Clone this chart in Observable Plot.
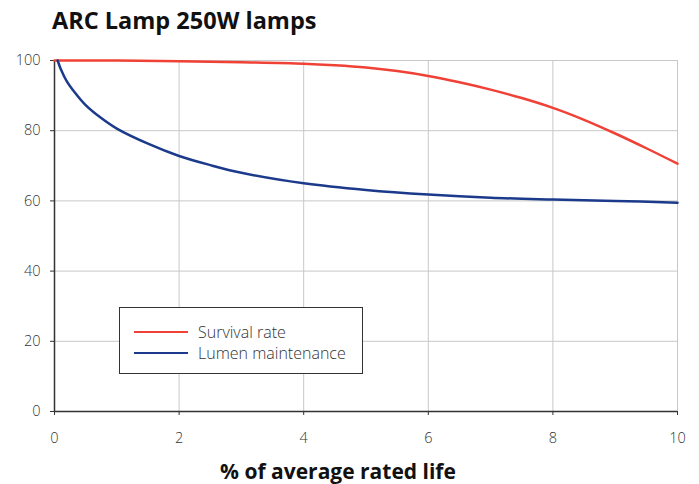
<!DOCTYPE html>
<html>
<head>
<meta charset="utf-8">
<script src="https://cdn.jsdelivr.net/npm/d3@7"></script>
<script src="https://cdn.jsdelivr.net/npm/@observablehq/plot@0.6"></script>
<style>
  html, body { margin: 0; padding: 0; background: #fff; }
  #wrap { position: relative; width: 699px; height: 484px; font-family: "Open Sans", sans-serif; }
  #title { position: absolute; left: 52px; top: 4px; font-size: 23.5px; font-weight: 700; color: #111; white-space: nowrap; }
  #chart { position: absolute; left: 0; top: 0; }
  #legend { position: absolute; left: 119px; top: 307px; width: 244px; height: 67px; border: 1px solid #333; background: #fff; box-sizing: border-box; font-size: 16px; color: #333; font-weight: 300; }
  .li { position: absolute; left: 14px; height: 22px; display: flex; align-items: center; white-space: nowrap; }
  .sw { width: 54px; height: 0; border-top: 2.5px solid; margin-right: 10px; }
</style>
</head>
<body>
<div id="wrap">
  <div id="chart"></div>
  <div id="title">ARC Lamp 250W lamps</div>
  <div id="legend"></div>
</div>
<script>
const seriesNames = ["Survival rate", "Lumen maintenance"];
const seriesColors = ["#ef4136", "#1b3a8c"];

const survivalX = [0, 1, 2, 3, 4, 4.5, 5, 5.5, 6, 6.5, 7, 7.5, 8, 8.5, 9, 9.5, 10];
const survivalY = [100, 100, 99.8, 99.5, 99.1, 98.65, 98.0, 97.0, 95.6, 93.8, 91.7, 89.3, 86.5, 83.1, 79.2, 75.0, 70.6];

const lumenX = [0.05, 0.1, 0.2, 0.3, 0.5, 0.75, 1.0, 1.5, 2.0, 2.5, 3.0, 4.0, 5.0, 6.0, 7.0, 8.0, 9.0, 10.0];
const lumenY = [100, 97.6, 94.0, 91.5, 87.3, 83.6, 80.6, 76.3, 72.8, 70.2, 68.0, 65.0, 63.1, 61.8, 60.9, 60.4, 60.0, 59.5];

const xTicks = [0, 2, 4, 6, 8, 10];
const yTicks = [0, 20, 40, 60, 80, 100];

const survival = survivalX.map((x, i) => ({x, y: survivalY[i], s: seriesNames[0]}));
const lumen = lumenX.map((x, i) => ({x, y: lumenY[i], s: seriesNames[1]}));

const plot = Plot.plot({
  width: 699,
  height: 484,
  marginTop: 60,
  marginLeft: 54,
  marginRight: 22,
  marginBottom: 73,
  style: { fontFamily: "Open Sans, sans-serif", background: "transparent" },
  x: { domain: [0, 10] },
  y: { domain: [0, 100] },
  marks: [
    Plot.gridX(xTicks, { stroke: "#c8c8c8", strokeOpacity: 1, strokeWidth: 1 }),
    Plot.gridY(yTicks, { stroke: "#c8c8c8", strokeOpacity: 1, strokeWidth: 1 }),
    Plot.axisX(xTicks, { tickSize: 4, tickPadding: 17, fontSize: 14.5, fontWeight: 300, fill: "#333", stroke: "#333",
      label: "% of average rated life", labelAnchor: "center", labelArrow: "none", labelOffset: 67 }),
    Plot.axisY(yTicks, { tickSize: 4, tickPadding: 10, fontSize: 14.5, fontWeight: 300, fill: "#333", stroke: "#333", label: null }),
    Plot.ruleX([0], { stroke: "#333", strokeWidth: 1.5 }),
    Plot.ruleY([0], { stroke: "#333", strokeWidth: 1.5 }),
    Plot.line(survival, { x: "x", y: "y", stroke: seriesColors[0], strokeWidth: 2.5, curve: "catmull-rom" }),
    Plot.line(lumen, { x: "x", y: "y", stroke: seriesColors[1], strokeWidth: 2.5, curve: "catmull-rom" })
  ]
});
document.getElementById("chart").appendChild(plot);

// style x-axis label
d3.select(plot).selectAll("[aria-label='x-axis label'] text")
  .attr("font-size", 21).attr("font-weight", 700).attr("fill", "#111").attr("dx", -28);

const legend = document.getElementById("legend");
seriesNames.forEach((n, i) => {
  const d = document.createElement("div");
  d.className = "li";
  d.style.top = (13 + i * 20.6) + "px";
  d.innerHTML = `<span class="sw" style="border-color:${seriesColors[i]}"></span><span>${n}</span>`;
  legend.appendChild(d);
});
</script>
</body>
</html>
